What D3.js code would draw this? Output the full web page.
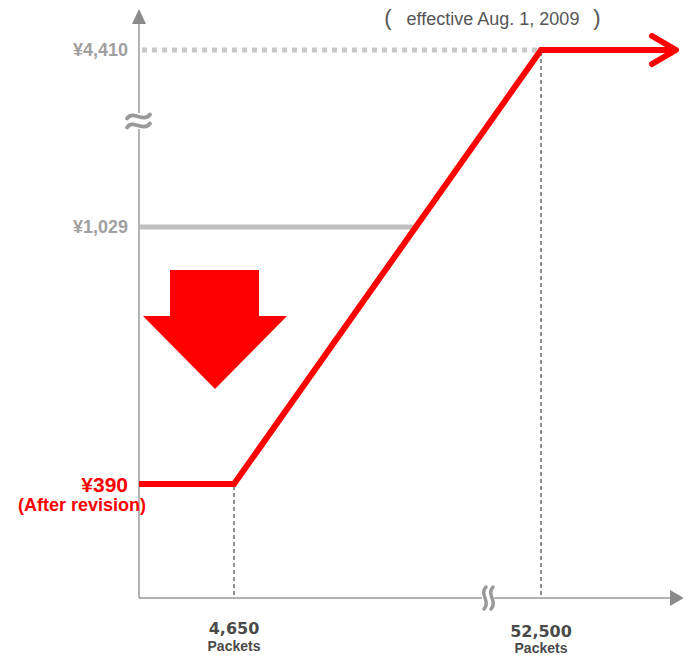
<!DOCTYPE html>
<html>
<head>
<meta charset="utf-8">
<script src="https://cdn.jsdelivr.net/npm/d3@7"></script>
<style>
  body { margin: 0; background: #fff; }
  text { font-family: "Liberation Sans", Arial, sans-serif; }
</style>
</head>
<body>
<div id="chart"></div>
<script>
// Chart values
const priceValues = [390, 1029, 4410];
const priceLabels = ["¥390", "¥1,029", "¥4,410"];
const packetValues = [4650, 52500];
const packetLabels = ["4,650", "52,500"];
const newRatePackets = [0, 4650, 52500, 60000];
const newRatePrices = [390, 390, 4410, 4410];
const oldMinPrice = 1029;
const capPrice = 4410;
const title = "effective Aug. 1, 2009";

const width = 683, height = 655;

// Broken axes -> piecewise linear scales
const xScale = d3.scaleLinear()
    .domain([0, 4650, 52500, 60000])
    .range([139, 234, 541, 676]);
const yScale = d3.scaleLinear()
    .domain([0, 390, 1029, 4410])
    .range([598, 484, 227, 50]);

const svg = d3.select("#chart")
    .append("svg")
    .attr("width", width)
    .attr("height", height);

const axisColor = "#9a9a9a";
const red = "#ff0000";

// Axes
const x0 = xScale(0), y0 = yScale(0);
svg.append("line")
    .attr("x1", x0).attr("y1", y0)
    .attr("x2", x0).attr("y2", 22)
    .attr("stroke", axisColor).attr("stroke-width", 1.5);
svg.append("path")
    .attr("d", `M${x0 - 7},${24} L${x0},${9} L${x0 + 7},${24} Z`)
    .attr("fill", "#8a8a8a");
svg.append("line")
    .attr("x1", x0).attr("y1", y0)
    .attr("x2", 672).attr("y2", y0)
    .attr("stroke", axisColor).attr("stroke-width", 1.5);
svg.append("path")
    .attr("d", `M${670},${y0 - 8} L${684},${y0} L${670},${y0 + 8} Z`)
    .attr("fill", "#8a8a8a");

// Break marks
const yBreak = 121;
svg.append("rect")
    .attr("x", x0 - 3).attr("y", yBreak - 8).attr("width", 6).attr("height", 16)
    .attr("fill", "#fff");
[-4.5, 4.5].forEach(dy => {
    svg.append("path")
        .attr("d", `M${x0 - 12},${yBreak + dy + 2} C${x0 - 6},${yBreak + dy - 7} ${x0 + 4},${yBreak + dy + 7} ${x0 + 11},${yBreak + dy - 2}`)
        .attr("fill", "none").attr("stroke", "#999")
        .attr("stroke-width", 3.8).attr("stroke-linecap", "round");
});
const xBreak = 488;
svg.append("rect")
    .attr("x", xBreak - 6).attr("y", y0 - 3).attr("width", 12).attr("height", 6)
    .attr("fill", "#fff");
[-3, 4].forEach(dx => {
    const bx = xBreak + dx;
    svg.append("path")
        .attr("d", `M${bx + 1},${y0 - 11} C${bx - 6},${y0 - 4} ${bx + 6},${y0 + 4} ${bx - 1},${y0 + 11}`)
        .attr("fill", "none").attr("stroke", "#999")
        .attr("stroke-width", 3.5).attr("stroke-linecap", "round");
});

// Cap price dotted line
svg.append("line")
    .attr("x1", x0 + 3).attr("y1", yScale(capPrice))
    .attr("x2", xScale(52500)).attr("y2", yScale(capPrice))
    .attr("stroke", "#c8c8c8").attr("stroke-width", 5)
    .attr("stroke-dasharray", "5,5");

// Old minimum price line, up to where it meets the new rate
const pa = [xScale(4650), yScale(390)], pb = [xScale(52500), yScale(4410)];
const yOld = yScale(oldMinPrice);
const xMeet = pa[0] + (pa[1] - yOld) / (pa[1] - pb[1]) * (pb[0] - pa[0]);
svg.append("line")
    .attr("x1", x0 + 1).attr("y1", yOld)
    .attr("x2", xMeet).attr("y2", yOld)
    .attr("stroke", "#c0c0c0").attr("stroke-width", 5);

// Dashed drop lines
packetValues.forEach((p, i) => {
    svg.append("line")
        .attr("x1", xScale(p)).attr("y1", yScale(newRatePrices[i + 1]) + 2)
        .attr("x2", xScale(p)).attr("y2", y0)
        .attr("stroke", "#555").attr("stroke-width", 1.3)
        .attr("stroke-dasharray", "4,3");
});

// Down arrow
svg.append("path")
    .attr("d", "M170,270 L259,270 L259,316 L287,316 L215,389 L143,316 L170,316 Z")
    .attr("fill", red);

// New rate line
const line = d3.line()
    .x((d, i) => xScale(newRatePackets[i]))
    .y(d => yScale(d));
svg.append("path")
    .datum(newRatePrices)
    .attr("d", line)
    .attr("fill", "none").attr("stroke", red)
    .attr("stroke-width", 6).attr("stroke-linejoin", "miter");
const tipX = xScale(60000), tipY = yScale(capPrice);
svg.append("path")
    .attr("d", `M${tipX - 24},${tipY - 14} L${tipX},${tipY} L${tipX - 24},${tipY + 14}`)
    .attr("fill", "none").attr("stroke", red)
    .attr("stroke-width", 6).attr("stroke-linecap", "round").attr("stroke-linejoin", "round");

// Y labels
svg.selectAll("text.ylab")
    .data(priceValues.slice(1))
    .join("text")
    .attr("class", "ylab")
    .attr("x", 128)
    .attr("y", d => yScale(d) + 6)
    .attr("text-anchor", "end")
    .attr("font-size", 18).attr("font-weight", "bold")
    .attr("fill", "#a0a0a0")
    .text((d, i) => priceLabels[i + 1]);
svg.append("text")
    .attr("x", 128).attr("y", yScale(390) + 8)
    .attr("text-anchor", "end")
    .attr("font-size", 21).attr("font-weight", "bold")
    .attr("fill", red)
    .text(priceLabels[0]);
svg.append("text")
    .attr("x", 146).attr("y", yScale(390) + 27)
    .attr("text-anchor", "end")
    .attr("font-size", 18).attr("font-weight", "bold")
    .attr("fill", red)
    .text("(After revision)");

// X labels
packetValues.forEach((p, i) => {
    const g = svg.append("g").attr("transform", `translate(${xScale(p)},0)`);
    g.append("text")
        .attr("y", 634 + i * 3).attr("text-anchor", "middle")
        .attr("font-size", 16).attr("font-weight", "bold")
        .attr("fill", "#4a4a4a")
        .style("font-family", "'DejaVu Sans', sans-serif")
        .text(packetLabels[i]);
    g.append("text")
        .attr("y", 651 + i * 2).attr("text-anchor", "middle")
        .attr("font-size", 14).attr("font-weight", "bold")
        .attr("fill", "#4a4a4a")
        .text("Packets");
});

// Title
svg.append("text")
    .attr("x", 388).attr("y", 25)
    .attr("text-anchor", "middle")
    .attr("font-size", 22).attr("fill", "#555")
    .text("(");
svg.append("text")
    .attr("x", 493).attr("y", 25)
    .attr("text-anchor", "middle")
    .attr("font-size", 18).attr("fill", "#555")
    .text(title);
svg.append("text")
    .attr("x", 597).attr("y", 25)
    .attr("text-anchor", "middle")
    .attr("font-size", 22).attr("fill", "#555")
    .text(")");
</script>
</body>
</html>
